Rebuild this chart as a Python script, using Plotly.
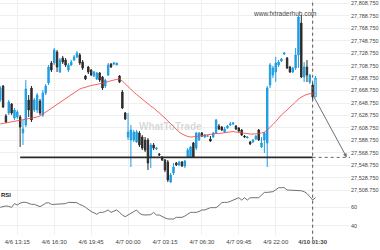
import plotly.graph_objects as go

# ---------------- data ----------------
opens = [27653.6, 27676.0, 27627.9, 27632.7, 27647.1, 27624.7, 27626.3, 27626.3, 27600.6, 27613.5,
         27653.6, 27672.8, 27637.5, 27637.5, 27652.0, 27629.5, 27664.8, 27680.8, 27712.9, 27712.9,
         27730.6, 27698.5, 27720.9, 27717.7, 27701.7, 27709.7, 27717.7, 27722.6, 27725.8, 27714.5,
         27692.1, 27706.5, 27701.7, 27692.1, 27687.3, 27696.9, 27690.5, 27676.0, 27693.7, 27711.3,
         27711.3, 27709.7, 27692.1, 27666.4, 27632.7, 27594.2, 27589.4, 27589.4, 27586.2, 27600.6,
         27594.2, 27589.4, 27589.4, 27562.1, 27581.4, 27574.9, 27566.9, 27562.1, 27557.3, 27554.1,
         27522.0, 27536.4, 27552.5, 27549.3, 27554.1, 27547.7, 27562.1, 27562.1, 27584.6, 27576.5,
         27589.4, 27600.6, 27594.2, 27595.5, 27591.0, 27594.2, 27600.6, 27611.8, 27610.2, 27602.2,
         27608.6, 27613.5, 27615.1, 27611.8, 27608.6, 27605.4, 27595.8, 27592.6, 27586.2, 27586.2,
         27591.0, 27605.4, 27578.2, 27589.4, 27584.6, 27677.6, 27693.7, 27698.5, 27709.7, 27716.1,
         27727.4, 27720.9, 27706.5, 27698.5, 27704.9, 27725.8, 27777.1, 27690.5, 27706.5, 27682.4,
         27677.6, 27658.4]
highs = [27676.0, 27677.6, 27631.1, 27653.6, 27648.7, 27640.7, 27637.5, 27629.5, 27621.5, 27685.6,
         27661.6, 27676.0, 27656.8, 27664.8, 27655.2, 27669.6, 27679.2, 27709.7, 27716.1, 27737.0,
         27733.8, 27720.9, 27724.2, 27720.9, 27712.9, 27717.7, 27725.8, 27732.2, 27729.0, 27717.7,
         27693.7, 27708.1, 27703.3, 27700.1, 27698.5, 27698.5, 27692.1, 27687.3, 27712.9, 27712.9,
         27714.5, 27712.9, 27693.7, 27669.6, 27634.3, 27632.7, 27613.5, 27605.4, 27605.4, 27603.8,
         27597.4, 27594.2, 27592.6, 27584.6, 27584.6, 27578.2, 27568.5, 27563.7, 27558.9, 27557.3,
         27536.4, 27552.5, 27554.1, 27555.7, 27555.7, 27557.3, 27576.5, 27579.8, 27586.2, 27602.2,
         27602.2, 27602.2, 27599.0, 27597.4, 27595.8, 27602.2, 27623.1, 27615.1, 27611.8, 27610.2,
         27613.5, 27618.3, 27618.3, 27613.5, 27610.2, 27607.0, 27597.4, 27595.8, 27587.8, 27591.0,
         27597.4, 27607.0, 27594.2, 27602.2, 27676.0, 27712.9, 27708.1, 27722.6, 27717.7, 27720.9,
         27730.6, 27722.6, 27708.1, 27706.5, 27737.0, 27788.3, 27789.9, 27714.5, 27717.7, 27695.3,
         27680.8, 27692.1]
lows = [27650.4, 27640.7, 27616.7, 27629.5, 27629.5, 27621.5, 27623.1, 27578.2, 27581.4, 27610.2,
        27626.3, 27618.3, 27634.3, 27632.7, 27629.5, 27626.3, 27661.6, 27677.6, 27698.5, 27709.7,
        27698.5, 27696.9, 27711.3, 27706.5, 27698.5, 27708.1, 27716.1, 27720.9, 27709.7, 27701.7,
        27685.6, 27695.3, 27692.1, 27690.5, 27685.6, 27682.4, 27669.6, 27672.8, 27692.1, 27704.9,
        27709.7, 27709.7, 27680.8, 27639.1, 27621.5, 27589.4, 27546.1, 27586.2, 27584.6, 27578.2,
        27573.3, 27570.1, 27541.3, 27544.5, 27573.3, 27573.3, 27563.7, 27555.7, 27538.0, 27522.0,
        27520.4, 27533.2, 27547.7, 27547.7, 27546.1, 27544.5, 27560.5, 27560.5, 27560.5, 27573.3,
        27587.8, 27594.2, 27592.6, 27594.2, 27586.2, 27592.6, 27599.0, 27605.4, 27603.8, 27600.6,
        27607.0, 27611.8, 27613.5, 27605.4, 27602.2, 27595.8, 27592.6, 27592.6, 27581.4, 27584.6,
        27589.4, 27587.8, 27576.5, 27568.5, 27546.1, 27672.8, 27688.9, 27682.4, 27706.5, 27714.5,
        27725.8, 27703.3, 27696.9, 27696.9, 27701.7, 27704.9, 27688.9, 27682.4, 27682.4, 27679.2,
        27653.6, 27658.4]
closes = [27672.8, 27642.3, 27618.3, 27650.4, 27632.7, 27637.5, 27634.3, 27610.2, 27607.0, 27671.2,
          27637.5, 27621.5, 27653.6, 27661.6, 27632.7, 27664.8, 27676.0, 27706.5, 27701.7, 27733.8,
          27706.5, 27717.7, 27714.5, 27709.7, 27709.7, 27714.5, 27722.6, 27729.0, 27712.9, 27704.9,
          27687.3, 27698.5, 27693.7, 27698.5, 27696.9, 27685.6, 27672.8, 27685.6, 27709.7, 27706.5,
          27712.9, 27712.9, 27682.4, 27640.7, 27623.1, 27602.2, 27605.4, 27602.2, 27602.2, 27581.4,
          27576.5, 27573.3, 27552.5, 27581.4, 27576.5, 27576.5, 27565.3, 27557.3, 27541.3, 27525.2,
          27533.2, 27546.1, 27549.3, 27554.1, 27547.7, 27555.7, 27573.3, 27578.2, 27562.1, 27600.6,
          27600.6, 27595.8, 27597.4, 27596.0, 27587.8, 27600.6, 27621.5, 27607.0, 27605.4, 27607.0,
          27611.8, 27615.1, 27616.7, 27607.0, 27603.8, 27597.4, 27594.2, 27594.2, 27583.0, 27589.4,
          27595.8, 27589.4, 27584.6, 27600.6, 27672.8, 27709.7, 27704.9, 27712.9, 27714.5, 27719.3,
          27729.0, 27704.9, 27698.5, 27704.9, 27725.8, 27786.7, 27690.5, 27706.5, 27693.7, 27693.7,
          27658.4, 27688.9]
ma = [27615.1, 27615.9, 27616.7, 27617.5, 27618.3, 27619.9, 27620.7, 27621.5, 27622.3, 27623.1,
      27623.9, 27624.7, 27625.5, 27626.3, 27627.9, 27631.1, 27634.3, 27637.5, 27640.7, 27643.1,
      27646.3, 27649.5, 27652.8, 27655.2, 27658.4, 27661.6, 27664.8, 27668.0, 27671.2, 27672.8,
      27674.4, 27676.0, 27676.8, 27677.6, 27678.4, 27679.2, 27680.0, 27681.6, 27683.2, 27684.8,
      27685.6, 27686.5, 27687.3, 27684.0, 27679.2, 27674.4, 27670.4, 27666.4, 27662.4, 27658.4,
      27654.4, 27650.4, 27647.1, 27643.9, 27640.7, 27636.7, 27632.7, 27629.5, 27624.7, 27619.9,
      27615.1, 27610.2, 27605.4, 27602.2, 27599.0, 27596.6, 27595.0, 27594.2, 27594.2, 27595.0,
      27595.8, 27596.6, 27597.4, 27598.2, 27599.0, 27599.0, 27599.8, 27599.8, 27600.6, 27601.4,
      27602.2, 27603.0, 27603.0, 27602.2, 27601.4, 27600.6, 27599.8, 27599.0, 27599.0, 27599.0,
      27599.0, 27599.8, 27600.6, 27602.2, 27605.4, 27609.4, 27614.3, 27619.1, 27624.7, 27629.5,
      27633.5, 27637.5, 27641.5, 27645.5, 27650.4, 27655.2, 27658.4, 27660.8, 27662.4, 27664.0,
      27664.8, 27664.0]
rsi = [60.0, 60.7, 61.5, 61.0, 60.0, 64.0, 62.5, 64.5, 65.4, 65.4,
       64.0, 63.2, 63.2, 62.0, 60.7, 62.5, 64.5, 65.0, 63.2, 63.2,
       63.2, 63.2, 63.2, 64.0, 65.4, 65.4, 65.4, 65.0, 63.0, 62.0,
       60.0, 57.5, 55.5, 54.0, 52.4, 54.5, 54.5, 55.5, 57.1, 54.5,
       56.0, 57.1, 54.5, 51.5, 49.8, 51.5, 53.5, 55.0, 57.1, 53.5,
       52.0, 51.6, 51.6, 52.0, 54.5, 51.6, 51.6, 49.8, 48.5, 47.3,
       47.3, 47.3, 49.1, 49.1, 49.1, 50.5, 52.5, 54.5, 54.5, 54.5,
       55.5, 57.1, 57.1, 58.0, 59.6, 59.6, 59.6, 62.0, 65.0, 65.4,
       65.4, 66.5, 68.0, 69.5, 70.4, 67.9, 70.4, 67.9, 70.4, 70.4,
       70.4, 70.4, 73.3, 76.2, 76.2, 76.2, 77.0, 79.0, 81.3, 81.3,
       81.3, 78.8, 78.8, 78.8, 78.8, 78.8, 78.0, 77.0, 75.0, 71.5,
       67.9, 70.4]

tick_bars = [6, 19, 32, 45, 58, 71, 84, 97, 110]
tick_labels = ["4/6 13:15", "4/6 16:30", "4/6 19:45", "4/7 00:00", "4/7 03:15",
               "4/7 06:30", "4/7 09:45", "4/9 22:00", "<b>4/10 01:30</b>"]
price_ticks = [27508.75 + 20 * k for k in range(16)]
rsi_ticks = [40, 60]

support_level = 27561.5
support_start_bar = 7
signal_bar = 110
target_bar = 122

# ---------------- figure ----------------
n = len(closes)
bars = list(range(n))
BLUE = "#1f9ee2"
DARK = "#2b2b2b"
FONT = "Liberation Sans, Arial, sans-serif"

fig = go.Figure()

fig.add_trace(go.Candlestick(
    x=bars[:-1], open=opens[:-1], high=highs[:-1], low=lows[:-1], close=closes[:-1],
    increasing=dict(line=dict(color=BLUE, width=1), fillcolor=BLUE),
    decreasing=dict(line=dict(color=DARK, width=1), fillcolor=DARK),
    whiskerwidth=0, showlegend=False, hoverinfo="skip"))
fig.add_trace(go.Candlestick(
    x=bars[-1:], open=opens[-1:], high=highs[-1:], low=lows[-1:], close=closes[-1:],
    increasing=dict(line=dict(color=BLUE, width=1), fillcolor="white"),
    decreasing=dict(line=dict(color=DARK, width=1), fillcolor="white"),
    whiskerwidth=0, showlegend=False, hoverinfo="skip"))

fig.add_trace(go.Scatter(x=bars, y=ma, mode="lines",
                         line=dict(color="rgba(240,70,70,0.85)", width=1),
                         showlegend=False, hoverinfo="skip"))

fig.add_trace(go.Scatter(x=bars, y=rsi, mode="lines", yaxis="y2",
                         line=dict(color="#707070", width=1),
                         showlegend=False, hoverinfo="skip"))

x_end = -0.09 + 350 / 2.84

# support line
fig.add_shape(type="line", xref="x", yref="y", x0=support_start_bar, x1=signal_bar,
              y0=support_level, y1=support_level, line=dict(color="#2a2a2a", width=1.6))
fig.add_shape(type="line", xref="x", yref="y", x0=signal_bar, x1=x_end,
              y0=support_level, y1=support_level, line=dict(color="#666", width=1, dash="dot"))
# vertical dashed line at signal
fig.add_shape(type="line", xref="x", yref="paper", x0=signal_bar, x1=signal_bar,
              y0=-0.02, y1=1, line=dict(color="#555", width=1, dash="dot"))

# projection arrow
fig.add_annotation(x=target_bar, y=support_level, ax=signal_bar, ay=closes[signal_bar] + 4,
                   xref="x", yref="y", axref="x", ayref="y", showarrow=True,
                   arrowhead=2, arrowsize=0.8, arrowwidth=1, arrowcolor="#707070", text="")

fig.add_annotation(x=0.911, y=0.966, xref="paper", yref="paper", text="www.fxtraderhub.com",
                   showarrow=False, font=dict(size=6.5, color="#444", family=FONT))
fig.add_annotation(x=0.487, y=0.463, xref="paper", yref="paper", text="<b>WhatToTrade</b>",
                   showarrow=False, font=dict(size=10, color="rgba(170,170,170,0.45)", family=FONT))
fig.add_annotation(x=-0.003, y=0.15, xref="paper", yref="paper", text="<b>RSI</b>", xanchor="left",
                   showarrow=False, font=dict(size=6, color="#222", family=FONT))

fig.update_layout(
    width=380, height=250,
    margin=dict(l=0, r=30, t=0, b=15, autoexpand=False),
    paper_bgcolor="white", plot_bgcolor="white",
    font=dict(family=FONT, size=6, color="#444"),
    xaxis=dict(range=[-0.09, x_end], tickvals=tick_bars, ticktext=tick_labels,
               showgrid=True, gridcolor="#efefef", gridwidth=1, zeroline=False,
               rangeslider=dict(visible=False), ticks="", tickfont=dict(size=6, color="#444"),
               showline=False, automargin=False, ticklabeloverflow="allow",
               ticklabelstandoff=2),
    yaxis=dict(range=[27437.0, 27814.0], side="right", tickvals=price_ticks, tickformat=",.3f",
               showgrid=True, gridcolor="#efefef", zeroline=False, ticks="",
               tickfont=dict(size=5.5, color="#444"), showline=False,
               automargin=False, ticklabeloverflow="allow", ticklabelstandoff=0),
    yaxis2=dict(range=[29.9, 285.3], overlaying="y", side="right", tickvals=rsi_ticks,
                showgrid=True, gridcolor="#efefef", zeroline=False, ticks="",
                tickfont=dict(size=5.5, color="#444"), showline=False,
                automargin=False, ticklabeloverflow="allow", ticklabelstandoff=0),
)

fig.write_html("out.html")
